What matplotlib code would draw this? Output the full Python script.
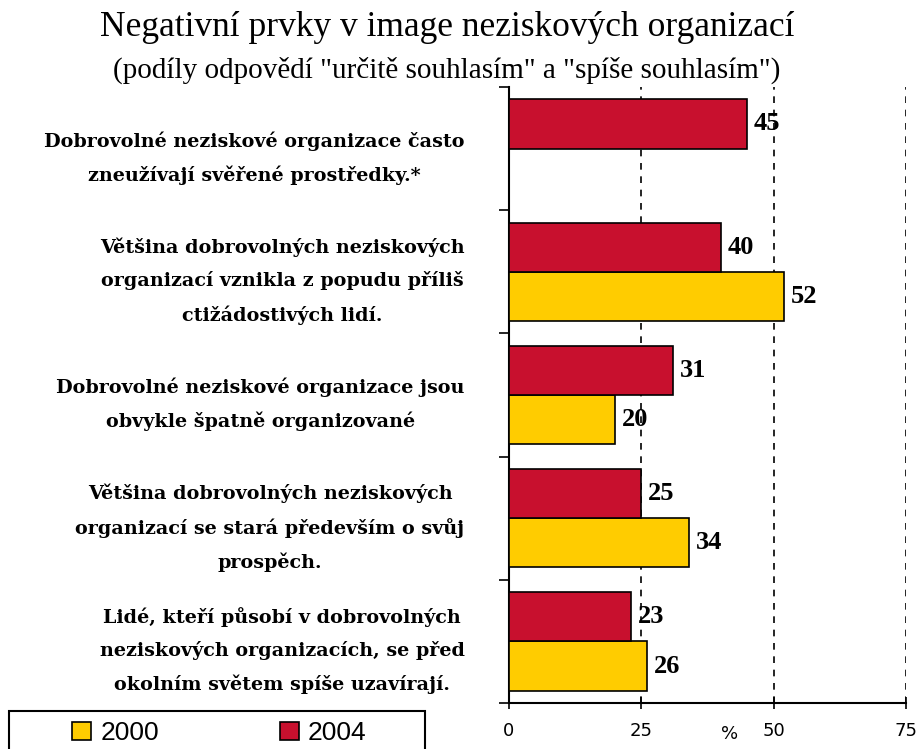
import numpy as np
import matplotlib
matplotlib.use('Agg')
import matplotlib.pyplot as plt
from matplotlib.patches import Rectangle

# Data (order: top to bottom)
kategorie = [
    'Dobrovolné neziskové organizace často\nzneužívají svěřené prostředky.*',
    'Většina dobrovolných neziskových\norganizací vznikla z popudu příliš\nctižádostivých lidí.',
    'Dobrovolné neziskové organizace jsou\nobvykle špatně organizované',
    'Většina dobrovolných neziskových\norganizací se stará především o svůj\nprospěch.',
    'Lidé, kteří působí v dobrovolných\nneziskových organizacích, se před\nokolním světem spíše uzavírají.',
]
hodnoty_2004 = [45, 40, 31, 25, 23]
hodnoty_2000 = [np.nan, 52, 20, 34, 26]
roky = ['2000', '2004']
x_ticks = [0, 25, 50, 75]

barva_2000 = '#FFCC00'
barva_2004 = '#C8102E'

fig = plt.figure(figsize=(9.19, 7.49), dpi=100)
ax = fig.add_axes([509/919, 1 - 703/749, 397/919, 616/749])

y = np.arange(len(kategorie))
h = 0.4
b2000 = ax.barh(y + h/2, hodnoty_2000, height=h, color=barva_2000,
                edgecolor='black', linewidth=1.2, label=roky[0], zorder=3)
b2004 = ax.barh(y - h/2, hodnoty_2004, height=h, color=barva_2004,
                edgecolor='black', linewidth=1.2, label=roky[1], zorder=3)

# popisky hodnot
for yy, v in zip(y - h/2, hodnoty_2004):
    ax.text(v + 1.3, yy, f'{v:.0f}', va='center', ha='left',
            family='Liberation Serif', fontweight='bold', fontsize=19)
for yy, v in zip(y + h/2, hodnoty_2000):
    if np.isnan(v):
        continue
    ax.text(v + 1.3, yy, f'{v:.0f}', va='center', ha='left',
            family='Liberation Serif', fontweight='bold', fontsize=19)

ax.set_xlim(0, 75)
ax.set_ylim(len(kategorie) - 0.5, -0.5)
ax.set_xticks(x_ticks)
ax.set_xticklabels([str(t) for t in x_ticks], family='DejaVu Sans', fontsize=13)
ax.tick_params(axis='x', direction='inout', length=8, width=1.2, pad=10)

# kategorie jako popisky osy y
ax.set_yticks(y)
ax.set_yticklabels(kategorie, family='DejaVu Serif', fontweight='bold',
                   fontsize=13.8)
for lab in ax.get_yticklabels():
    lab.set_multialignment('center')
    lab.set_linespacing(1.95)
ax.tick_params(axis='y', which='major', length=0, pad=32)
ax.set_yticks(np.arange(-0.5, len(kategorie)), minor=True)
ax.tick_params(axis='y', which='minor', direction='out', length=7, width=1.2)

for xv in x_ticks[1:]:
    ax.axvline(xv, color='black', linestyle=(0, (4, 4)), linewidth=1.2, zorder=1)

for s in ['top', 'right']:
    ax.spines[s].set_visible(False)
ax.spines['left'].set_linewidth(1.5)
ax.spines['bottom'].set_linewidth(1.5)

ax.set_xlabel('%', family='DejaVu Sans', fontsize=13)
ax.xaxis.set_label_coords((730 - 509) / 397, -22 / 616)
ax.xaxis.label.set_va('top')

fig.text(447/919, 1 - 27/749, 'Negativní prvky v image neziskových organizací',
         ha='center', va='center', family='Liberation Serif', fontsize=25.5)
fig.text(447/919, 1 - 70/749,
         '(podíly odpovědí "určitě souhlasím" a "spíše souhlasím")',
         ha='center', va='center', family='Liberation Serif', fontsize=21)

# legenda
fig.add_artist(Rectangle((9/919, -0.05), 416/919, 0.05 + 1 - 711/749,
                         transform=fig.transFigure, fill=False,
                         edgecolor='black', linewidth=1.5))
fig.legend(handles=[b2000, b2004], labels=roky, ncol=2, frameon=False,
           loc='upper left', bbox_to_anchor=(54/919, 1 - 703/749),
           prop={'family': 'Liberation Sans', 'size': 19},
           handlelength=0.7, handleheight=0.7, handletextpad=0.35,
           columnspacing=4.6, borderpad=0.2)

fig.savefig('out.png', dpi=100)
